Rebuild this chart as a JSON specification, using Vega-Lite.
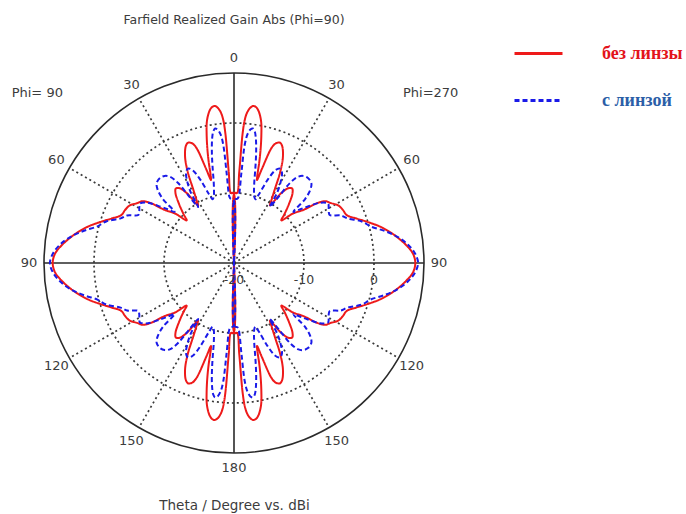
{
  "$schema": "https://vega.github.io/schema/vega-lite/v6.json",
  "width": 380,
  "height": 380,
  "autosize": "none",
  "padding": {"left": 44, "top": 73, "right": 262, "bottom": 61},
  "background": "white",
  "title": {"text": "Farfield Realized Gain Abs (Phi=90)", "font": "DejaVu Sans", "fontSize": 12.5, "fontWeight": "normal", "color": "#3c3c3c", "anchor": "middle", "offset": 2},
  "config": {
    "view": {"stroke": null},
    "axisX": {"labels": false, "ticks": false, "domain": false, "grid": false, "titleFont": "DejaVu Sans", "titleFontSize": 13.5, "titleFontWeight": "normal", "titleColor": "#3c3c3c", "titlePadding": 45}
  },
  "datasets": {
    "red": [
      {"t":0,"g":-25},{"t":0.4,"g":-10},{"t":2.5,"g":-10},{"t":3.3,"g":-7},{"t":3.8,"g":-1.5},{"t":4.3,"g":0.5},{"t":5,"g":1.6},{"t":6,"g":2.3},{"t":7,"g":2.6},{"t":8,"g":2.5},{"t":9,"g":2.1},{"t":10,"g":1.4},{"t":11,"g":0.4},{"t":12,"g":-1.2},{"t":13,"g":-3},{"t":14,"g":-5},{"t":15,"g":-7.2},{"t":15.5,"g":-7.7},{"t":16.5,"g":-6},{"t":18,"g":-2.8},{"t":19,"g":-2},{"t":20,"g":-1.7},{"t":21,"g":-1.6},{"t":22,"g":-1.8},{"t":23,"g":-2.2},{"t":25,"g":-3.5},{"t":27,"g":-5.5},{"t":29,"g":-8},{"t":31,"g":-9.7},{"t":32,"g":-10.3},{"t":34,"g":-8},{"t":36,"g":-6.8},{"t":38,"g":-6.5},{"t":40,"g":-7},{"t":43,"g":-8.5},{"t":46,"g":-10},{"t":48,"g":-10.9},{"t":50,"g":-9},{"t":52.6,"g":-7.5},{"t":54.2,"g":-5.4},{"t":56,"g":-4.2},{"t":58,"g":-3.8},{"t":61,"g":-3},{"t":64,"g":-2.7},{"t":67,"g":-2.5},{"t":70,"g":-1.4},{"t":73,"g":0},{"t":76,"g":1.5},{"t":79,"g":2.8},{"t":81,"g":3.6},{"t":84,"g":4.7},{"t":87,"g":5.6},{"t":90,"g":5.9},
      {"t":93,"g":5.6},{"t":96,"g":4.7},{"t":99,"g":3.6},{"t":101,"g":2.8},{"t":104,"g":1.5},{"t":107,"g":0},{"t":110,"g":-1.4},{"t":113,"g":-2.5},{"t":116,"g":-2.7},{"t":119,"g":-3},{"t":122,"g":-3.8},{"t":124,"g":-4.2},{"t":125.8,"g":-5.4},{"t":127.4,"g":-7.5},{"t":130,"g":-9},{"t":132,"g":-10.9},{"t":134,"g":-10},{"t":137,"g":-8.5},{"t":140,"g":-7},{"t":142,"g":-6.5},{"t":144,"g":-6.8},{"t":146,"g":-8},{"t":148,"g":-10.3},{"t":149,"g":-9.7},{"t":151,"g":-8},{"t":153,"g":-5.5},{"t":155,"g":-3.5},{"t":157,"g":-2.2},{"t":158,"g":-1.8},{"t":159,"g":-1.6},{"t":160,"g":-1.7},{"t":161,"g":-2},{"t":162,"g":-2.8},{"t":163.5,"g":-6},{"t":164.5,"g":-7.7},{"t":165,"g":-7.2},{"t":166,"g":-5},{"t":167,"g":-3},{"t":168,"g":-1.2},{"t":169,"g":0.4},{"t":170,"g":1.4},{"t":171,"g":2.1},{"t":172,"g":2.5},{"t":173,"g":2.6},{"t":174,"g":2.3},{"t":175,"g":1.6},{"t":175.7,"g":0.5},{"t":176.2,"g":-1.5},{"t":176.7,"g":-7},{"t":177.5,"g":-10},{"t":179.6,"g":-10},{"t":180,"g":-25},
      {"t":180.4,"g":-10},{"t":182.5,"g":-10},{"t":183.3,"g":-7},{"t":183.8,"g":-1.5},{"t":184.3,"g":0.5},{"t":185,"g":1.6},{"t":186,"g":2.3},{"t":187,"g":2.6},{"t":188,"g":2.5},{"t":189,"g":2.1},{"t":190,"g":1.4},{"t":191,"g":0.4},{"t":192,"g":-1.2},{"t":193,"g":-3},{"t":194,"g":-5},{"t":195,"g":-7.2},{"t":195.5,"g":-7.7},{"t":196.5,"g":-6},{"t":198,"g":-2.8},{"t":199,"g":-2},{"t":200,"g":-1.7},{"t":201,"g":-1.6},{"t":202,"g":-1.8},{"t":203,"g":-2.2},{"t":205,"g":-3.5},{"t":207,"g":-5.5},{"t":209,"g":-8},{"t":211,"g":-9.7},{"t":212,"g":-10.3},{"t":214,"g":-8},{"t":216,"g":-6.8},{"t":218,"g":-6.5},{"t":220,"g":-7},{"t":223,"g":-8.5},{"t":226,"g":-10},{"t":228,"g":-10.9},{"t":230,"g":-9},{"t":232.6,"g":-7.5},{"t":234.2,"g":-5.4},{"t":236,"g":-4.2},{"t":238,"g":-3.8},{"t":241,"g":-3},{"t":244,"g":-2.7},{"t":247,"g":-2.5},{"t":250,"g":-1.4},{"t":253,"g":0},{"t":256,"g":1.5},{"t":259,"g":2.8},{"t":261,"g":3.6},{"t":264,"g":4.7},{"t":267,"g":5.6},{"t":270,"g":5.9},
      {"t":273,"g":5.6},{"t":276,"g":4.7},{"t":279,"g":3.6},{"t":281,"g":2.8},{"t":284,"g":1.5},{"t":287,"g":0},{"t":290,"g":-1.4},{"t":293,"g":-2.5},{"t":296,"g":-2.7},{"t":299,"g":-3},{"t":302,"g":-3.8},{"t":304,"g":-4.2},{"t":305.8,"g":-5.4},{"t":307.4,"g":-7.5},{"t":310,"g":-9},{"t":312,"g":-10.9},{"t":314,"g":-10},{"t":317,"g":-8.5},{"t":320,"g":-7},{"t":322,"g":-6.5},{"t":324,"g":-6.8},{"t":326,"g":-8},{"t":328,"g":-10.3},{"t":329,"g":-9.7},{"t":331,"g":-8},{"t":333,"g":-5.5},{"t":335,"g":-3.5},{"t":337,"g":-2.2},{"t":338,"g":-1.8},{"t":339,"g":-1.6},{"t":340,"g":-1.7},{"t":341,"g":-2},{"t":342,"g":-2.8},{"t":343.5,"g":-6},{"t":344.5,"g":-7.7},{"t":345,"g":-7.2},{"t":346,"g":-5},{"t":347,"g":-3},{"t":348,"g":-1.2},{"t":349,"g":0.4},{"t":350,"g":1.4},{"t":351,"g":2.1},{"t":352,"g":2.5},{"t":353,"g":2.6},{"t":354,"g":2.3},{"t":355,"g":1.6},{"t":355.7,"g":0.5},{"t":356.2,"g":-1.5},{"t":356.7,"g":-7},{"t":357.5,"g":-10},{"t":359.6,"g":-10},{"t":360,"g":-25}
    ],
    "blue": [
      {"t":0,"g":-25},{"t":0.4,"g":-11},{"t":3,"g":-10.8},{"t":4,"g":-10.5},{"t":4.7,"g":-7},{"t":5.2,"g":-3},{"t":6,"g":-1.5},{"t":7,"g":-0.8},{"t":8,"g":-0.6},{"t":9,"g":-1},{"t":10,"g":-2},{"t":11,"g":-3.4},{"t":12,"g":-5},{"t":13,"g":-6.6},{"t":14,"g":-8},{"t":15.5,"g":-9.3},{"t":17,"g":-10.1},{"t":18.5,"g":-10.4},{"t":20,"g":-9.5},{"t":22,"g":-7.2},{"t":24,"g":-5.5},{"t":26,"g":-5},{"t":28,"g":-5.4},{"t":30,"g":-6.7},{"t":31.5,"g":-8.2},{"t":32.6,"g":-10.5},{"t":34,"g":-8.5},{"t":35,"g":-6},{"t":36.5,"g":-4.7},{"t":38.5,"g":-4.1},{"t":41,"g":-3.9},{"t":44,"g":-4.1},{"t":46,"g":-4.8},{"t":48,"g":-6.3},{"t":49.3,"g":-8.8},{"t":51,"g":-7.8},{"t":52.5,"g":-6.8},{"t":55,"g":-5},{"t":57.7,"g":-4.1},{"t":59.5,"g":-4.3},{"t":61.5,"g":-4.6},{"t":63.4,"g":-4.7},{"t":66,"g":-3.3},{"t":68.5,"g":-2.6},{"t":72,"g":-0.8},{"t":75,"g":0.2},{"t":78,"g":2},{"t":81,"g":3.7},{"t":84,"g":5},{"t":87,"g":5.9},{"t":90,"g":6.3},
      {"t":93,"g":5.9},{"t":96,"g":5},{"t":99,"g":3.7},{"t":102,"g":2},{"t":105,"g":0.2},{"t":108,"g":-0.8},{"t":111.5,"g":-2.6},{"t":114,"g":-3.3},{"t":116.6,"g":-4.7},{"t":118.5,"g":-4.6},{"t":120.5,"g":-4.3},{"t":122.3,"g":-4.1},{"t":125,"g":-5},{"t":127.5,"g":-6.8},{"t":129,"g":-7.8},{"t":130.7,"g":-8.8},{"t":132,"g":-6.3},{"t":134,"g":-4.8},{"t":136,"g":-4.1},{"t":139,"g":-3.9},{"t":141.5,"g":-4.1},{"t":143.5,"g":-4.7},{"t":145,"g":-6},{"t":146,"g":-8.5},{"t":147.4,"g":-10.5},{"t":148.5,"g":-8.2},{"t":150,"g":-6.7},{"t":152,"g":-5.4},{"t":154,"g":-5},{"t":156,"g":-5.5},{"t":158,"g":-7.2},{"t":160,"g":-9.5},{"t":161.5,"g":-10.4},{"t":163,"g":-10.1},{"t":164.5,"g":-9.3},{"t":166,"g":-8},{"t":167,"g":-6.6},{"t":168,"g":-5},{"t":169,"g":-3.4},{"t":170,"g":-2},{"t":171,"g":-1},{"t":172,"g":-0.6},{"t":173,"g":-0.8},{"t":174,"g":-1.5},{"t":174.8,"g":-3},{"t":175.3,"g":-7},{"t":176,"g":-10.5},{"t":177,"g":-10.8},{"t":179.6,"g":-11},{"t":180,"g":-25},
      {"t":180.4,"g":-11},{"t":183,"g":-10.8},{"t":184,"g":-10.5},{"t":184.7,"g":-7},{"t":185.2,"g":-3},{"t":186,"g":-1.5},{"t":187,"g":-0.8},{"t":188,"g":-0.6},{"t":189,"g":-1},{"t":190,"g":-2},{"t":191,"g":-3.4},{"t":192,"g":-5},{"t":193,"g":-6.6},{"t":194,"g":-8},{"t":195.5,"g":-9.3},{"t":197,"g":-10.1},{"t":198.5,"g":-10.4},{"t":200,"g":-9.5},{"t":202,"g":-7.2},{"t":204,"g":-5.5},{"t":206,"g":-5},{"t":208,"g":-5.4},{"t":210,"g":-6.7},{"t":211.5,"g":-8.2},{"t":212.6,"g":-10.5},{"t":214,"g":-8.5},{"t":215,"g":-6},{"t":216.5,"g":-4.7},{"t":218.5,"g":-4.1},{"t":221,"g":-3.9},{"t":224,"g":-4.1},{"t":226,"g":-4.8},{"t":228,"g":-6.3},{"t":229.3,"g":-8.8},{"t":231,"g":-7.8},{"t":232.5,"g":-6.8},{"t":235,"g":-5},{"t":237.7,"g":-4.1},{"t":239.5,"g":-4.3},{"t":241.5,"g":-4.6},{"t":243.4,"g":-4.7},{"t":246,"g":-3.3},{"t":248.5,"g":-2.6},{"t":252,"g":-0.8},{"t":255,"g":0.2},{"t":258,"g":2},{"t":261,"g":3.7},{"t":264,"g":5},{"t":267,"g":5.9},{"t":270,"g":6.3},
      {"t":273,"g":5.9},{"t":276,"g":5},{"t":279,"g":3.7},{"t":282,"g":2},{"t":285,"g":0.2},{"t":288,"g":-0.8},{"t":291.5,"g":-2.6},{"t":294,"g":-3.3},{"t":296.6,"g":-4.7},{"t":298.5,"g":-4.6},{"t":300.5,"g":-4.3},{"t":302.3,"g":-4.1},{"t":305,"g":-5},{"t":307.5,"g":-6.8},{"t":309,"g":-7.8},{"t":310.7,"g":-8.8},{"t":312,"g":-6.3},{"t":314,"g":-4.8},{"t":316,"g":-4.1},{"t":319,"g":-3.9},{"t":321.5,"g":-4.1},{"t":323.5,"g":-4.7},{"t":325,"g":-6},{"t":326,"g":-8.5},{"t":327.4,"g":-10.5},{"t":328.5,"g":-8.2},{"t":330,"g":-6.7},{"t":332,"g":-5.4},{"t":334,"g":-5},{"t":336,"g":-5.5},{"t":338,"g":-7.2},{"t":340,"g":-9.5},{"t":341.5,"g":-10.4},{"t":343,"g":-10.1},{"t":344.5,"g":-9.3},{"t":346,"g":-8},{"t":347,"g":-6.6},{"t":348,"g":-5},{"t":349,"g":-3.4},{"t":350,"g":-2},{"t":351,"g":-1},{"t":352,"g":-0.6},{"t":353,"g":-0.8},{"t":354,"g":-1.5},{"t":354.8,"g":-3},{"t":355.3,"g":-7},{"t":356,"g":-10.5},{"t":357,"g":-10.8},{"t":359.6,"g":-11},{"t":360,"g":-25}
    ]
  },
  "layer": [
    {
      "data": {"values": [{"r": 10}, {"r": 20}]},
      "mark": {"type": "point", "shape": "circle", "filled": false, "stroke": "#3a3a3a", "strokeWidth": 1.7, "strokeDash": [2, 3], "opacity": 1},
      "encoding": {
        "x": {"datum": 0, "type": "quantitative", "title": "Theta / Degree vs. dBi", "scale": {"domain": [-27.1429, 27.1429], "nice": false, "zero": false}},
        "y": {"datum": 0, "type": "quantitative", "axis": null, "scale": {"domain": [-27.1429, 27.1429], "nice": false, "zero": false}},
        "size": {"field": "r", "type": "quantitative", "scale": {"type": "pow", "exponent": 2, "domain": [0, 27.1429], "range": [0, 144400], "zero": true}, "legend": null}
      }
    },
    {
      "data": {"values": [{"r": 27.1429}]},
      "mark": {"type": "point", "shape": "circle", "filled": false, "stroke": "#2a2a2a", "strokeWidth": 1.6, "opacity": 1},
      "encoding": {
        "x": {"datum": 0, "type": "quantitative", "title": "Theta / Degree vs. dBi", "scale": {"domain": [-27.1429, 27.1429], "nice": false, "zero": false}},
        "y": {"datum": 0, "type": "quantitative", "axis": null, "scale": {"domain": [-27.1429, 27.1429], "nice": false, "zero": false}},
        "size": {"field": "r", "type": "quantitative", "scale": {"type": "pow", "exponent": 2, "domain": [0, 27.1429], "range": [0, 144400], "zero": true}, "legend": null}
      }
    },
    {
      "data": {"values": [{"a": 30}, {"a": 60}, {"a": 120}, {"a": 150}, {"a": 210}, {"a": 240}, {"a": 300}, {"a": 330}]},
      "transform": [
        {"calculate": "0", "as": "x"},
        {"calculate": "0", "as": "y"},
        {"calculate": "27.1429*sin(datum.a*PI/180)", "as": "x2"},
        {"calculate": "27.1429*cos(datum.a*PI/180)", "as": "y2"}
      ],
      "mark": {"type": "rule", "stroke": "#3a3a3a", "strokeWidth": 1.7, "strokeDash": [2, 3]},
      "encoding": {
        "x": {"field": "x", "type": "quantitative", "title": "Theta / Degree vs. dBi", "scale": {"domain": [-27.1429, 27.1429], "nice": false, "zero": false}},
        "y": {"field": "y", "type": "quantitative", "axis": null, "scale": {"domain": [-27.1429, 27.1429], "nice": false, "zero": false}},
        "x2": {"field": "x2"},
        "y2": {"field": "y2"}
      }
    },
    {
      "data": {"values": [{"a": 0}, {"a": 90}]},
      "transform": [
        {"calculate": "-27.1429*sin(datum.a*PI/180)", "as": "x"},
        {"calculate": "-27.1429*cos(datum.a*PI/180)", "as": "y"},
        {"calculate": "27.1429*sin(datum.a*PI/180)", "as": "x2"},
        {"calculate": "27.1429*cos(datum.a*PI/180)", "as": "y2"}
      ],
      "mark": {"type": "rule", "stroke": "#2a2a2a", "strokeWidth": 1.6},
      "encoding": {
        "x": {"field": "x", "type": "quantitative", "title": "Theta / Degree vs. dBi", "scale": {"domain": [-27.1429, 27.1429], "nice": false, "zero": false}},
        "y": {"field": "y", "type": "quantitative", "axis": null, "scale": {"domain": [-27.1429, 27.1429], "nice": false, "zero": false}},
        "x2": {"field": "x2"},
        "y2": {"field": "y2"}
      }
    },
    {
      "data": {"name": "red"},
      "transform": [
        {"calculate": "'без линзы'", "as": "s"},
        {"calculate": "max(0, datum.g + 20)", "as": "r"},
        {"calculate": "datum.r*sin(datum.t*PI/180)", "as": "x"},
        {"calculate": "datum.r*cos(datum.t*PI/180)", "as": "y"}
      ],
      "mark": {"type": "line", "strokeWidth": 2, "interpolate": "catmull-rom"},
      "encoding": {
        "x": {"field": "x", "type": "quantitative", "title": "Theta / Degree vs. dBi", "scale": {"domain": [-27.1429, 27.1429], "nice": false, "zero": false}},
        "y": {"field": "y", "type": "quantitative", "axis": null, "scale": {"domain": [-27.1429, 27.1429], "nice": false, "zero": false}},
        "order": {"field": "t", "type": "quantitative"},
        "color": {"field": "s", "type": "nominal", "scale": {"domain": ["без линзы", "с линзой"], "range": ["#ee1a1a", "#1a1ae8"]}, "legend": {"orient": "none", "legendX": 469, "legendY": -45, "title": null, "symbolType": "stroke", "symbolSize": 2304, "symbolStrokeWidth": 3, "labelFont": "Liberation Serif", "labelFontWeight": "bold", "labelFontSize": 18, "labelOffset": 38, "rowPadding": 12, "labelLimit": 0, "labelColor": {"expr": "datum.label === 'без линзы' ? '#e3141b' : '#2b5ea7'"}}},
        "strokeDash": {"field": "s", "type": "nominal", "scale": {"domain": ["без линзы", "с линзой"], "range": [[1, 0], [5, 3]]}, "legend": {"orient": "none", "legendX": 469, "legendY": -45, "title": null, "symbolType": "stroke", "symbolSize": 2304, "symbolStrokeWidth": 3, "labelFont": "Liberation Serif", "labelFontWeight": "bold", "labelFontSize": 18, "labelOffset": 38, "rowPadding": 12, "labelLimit": 0, "labelColor": {"expr": "datum.label === 'без линзы' ? '#e3141b' : '#2b5ea7'"}}}
      }
    },
    {
      "data": {"name": "blue"},
      "transform": [
        {"calculate": "'с линзой'", "as": "s"},
        {"calculate": "max(0, datum.g + 20)", "as": "r"},
        {"calculate": "datum.r*sin(datum.t*PI/180)", "as": "x"},
        {"calculate": "datum.r*cos(datum.t*PI/180)", "as": "y"}
      ],
      "mark": {"type": "line", "strokeWidth": 2, "interpolate": "catmull-rom"},
      "encoding": {
        "x": {"field": "x", "type": "quantitative", "title": "Theta / Degree vs. dBi", "scale": {"domain": [-27.1429, 27.1429], "nice": false, "zero": false}},
        "y": {"field": "y", "type": "quantitative", "axis": null, "scale": {"domain": [-27.1429, 27.1429], "nice": false, "zero": false}},
        "order": {"field": "t", "type": "quantitative"},
        "color": {"field": "s", "type": "nominal"},
        "strokeDash": {"field": "s", "type": "nominal"}
      }
    },
    {
      "data": {"values": [{"a":0,"l":"0"},{"a":30,"l":"30"},{"a":60,"l":"60"},{"a":90,"l":"90"},{"a":120,"l":"120"},{"a":150,"l":"150"},{"a":180,"l":"180"},{"a":210,"l":"150"},{"a":240,"l":"120"},{"a":270,"l":"90"},{"a":300,"l":"60"},{"a":330,"l":"30"}]},
      "transform": [
        {"calculate": "29.3*sin(datum.a*PI/180)", "as": "x"},
        {"calculate": "29.3*cos(datum.a*PI/180)", "as": "y"}
      ],
      "mark": {"type": "text", "font": "DejaVu Sans", "fontSize": 13, "color": "#3c3c3c", "align": "center", "baseline": "middle"},
      "encoding": {
        "x": {"field": "x", "type": "quantitative", "title": "Theta / Degree vs. dBi", "scale": {"domain": [-27.1429, 27.1429], "nice": false, "zero": false}},
        "y": {"field": "y", "type": "quantitative", "axis": null, "scale": {"domain": [-27.1429, 27.1429], "nice": false, "zero": false}},
        "text": {"field": "l", "type": "nominal"}
      }
    },
    {
      "data": {"values": [{"g": -20, "l": "-20"}, {"g": -10, "l": "-10"}, {"g": 0, "l": "0"}]},
      "transform": [{"calculate": "datum.g + 20", "as": "x"}, {"calculate": "0", "as": "y"}],
      "mark": {"type": "text", "font": "DejaVu Sans", "fontSize": 12.5, "color": "#3c3c3c", "align": "center", "baseline": "middle", "dy": 17},
      "encoding": {
        "x": {"field": "x", "type": "quantitative", "title": "Theta / Degree vs. dBi", "scale": {"domain": [-27.1429, 27.1429], "nice": false, "zero": false}},
        "y": {"field": "y", "type": "quantitative", "axis": null, "scale": {"domain": [-27.1429, 27.1429], "nice": false, "zero": false}},
        "text": {"field": "l", "type": "nominal"}
      }
    },
    {
      "data": {"values": [{"l": "Phi= 90", "side": -1}, {"l": "Phi=270", "side": 1}]},
      "transform": [{"calculate": "datum.side * 28.1", "as": "x"}, {"calculate": "24.3", "as": "y"}],
      "mark": {"type": "text", "font": "DejaVu Sans", "fontSize": 13, "color": "#3c3c3c", "align": "center", "baseline": "middle"},
      "encoding": {
        "x": {"field": "x", "type": "quantitative", "title": "Theta / Degree vs. dBi", "scale": {"domain": [-27.1429, 27.1429], "nice": false, "zero": false}},
        "y": {"field": "y", "type": "quantitative", "axis": null, "scale": {"domain": [-27.1429, 27.1429], "nice": false, "zero": false}},
        "text": {"field": "l", "type": "nominal"}
      }
    }
  ]
}
